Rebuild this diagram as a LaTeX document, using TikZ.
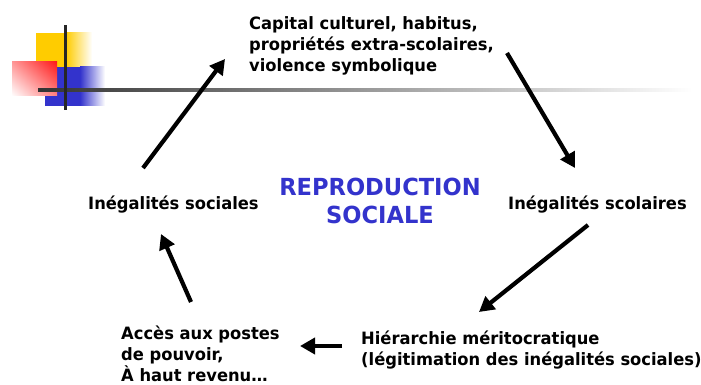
\documentclass[tikz,border=0pt]{standalone}
\usepackage{fontspec}
\setmainfont{DejaVu Sans}[FakeStretch=0.96]
\usetikzlibrary{%
	arrows.meta,%
	shadings,%
	calc
}
\definecolor{logoyellow}{rgb}{1.0, 0.8, 0.0}
\definecolor{logoblue}{rgb}{0.2, 0.2, 0.8}
\definecolor{logored}{rgb}{1.0, 0.1, 0.1}

\begin{document}
\begin{tikzpicture}[x=1pt,y=-1pt,
		lbl/.style={inner sep=0pt,align=left,font=\bfseries\fontsize{17}{21}\selectfont},
		titre/.style={inner sep=0pt,align=center,text=logoblue,font=\bfseries\fontsize{23.5}{28}\selectfont},
		arr/.style={line width=4.2pt,-{Triangle[length=15pt,width=16pt]}}
	]
	\useasboundingbox (0,0) rectangle (701,385);
	
	% Logo in the corner
	\fill[logoyellow] (36,33) rectangle (66,68);
	\shade[left color=logoyellow,right color=white] (66,33) rectangle (92,68);
	\fill[logoblue] (45,67) rectangle (80,106);
	\shade[left color=logoblue,right color=white] (80,67) rectangle (105,106);
	\shade[upper right=logored,upper left=logored!45,lower right=logored!55,lower left=white] (12,62) rectangle (57,96);
	\shade[left color=black!80,right color=white] (38,88.5) rectangle (692,91.5);
	\fill[black!85] (63.5,25) rectangle (66.5,110);
	
	% Texts (base = last line)
	\node[lbl,anchor=base west] (cap) at (249,72) {Capital culturel, habitus,\\propriétés extra-scolaires,\\violence symbolique};
	\node[lbl,anchor=base west] (soc) at (88,209) {Inégalités sociales};
	\node[lbl,anchor=base west] (sco) at (508,209) {Inégalités scolaires};
	\node[lbl,anchor=base west] (hie) at (361,365) {Hiérarchie méritocratique\\(légitimation des inégalités sociales)};
	\node[lbl,anchor=base west] (acc) at (121,381) {Accès aux postes\\de pouvoir,\\À haut revenu…};
	\node[titre] (rep) at (380,201) {REPRODUCTION\\SOCIALE};
	
	% Arrows of the cycle
	\draw[arr] ([shift={(55,-41)}]soc.base west) -- ([shift={(-24,-13)}]cap.base west);
	\draw[arr] ([shift={(258,-19)}]cap.base west) -- ([shift={(67,-41)}]sco.base west);
	\draw[arr] ([shift={(80,16)}]sco.base west) -- ([shift={(118,-53)}]hie.base west);
	\draw[arr] ([shift={(-19,-19)}]hie.base west) -- ([shift={(179,-35)}]acc.base west);
	\draw[arr] ([shift={(70,-79)}]acc.base west) -- ([shift={(73,25)}]soc.base west);
\end{tikzpicture}
\end{document}
